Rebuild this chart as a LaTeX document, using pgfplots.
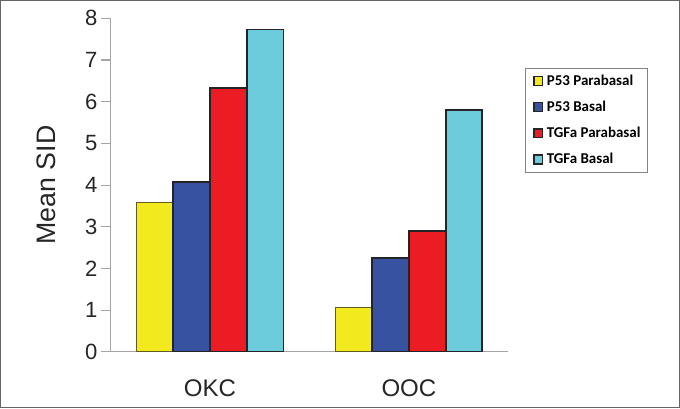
\documentclass[border=0pt]{standalone}
\usepackage{fontspec}
\setmainfont{Liberation Sans}
\newfontfamily\calfont{Carlito}
\usepackage{pgfplots}
\pgfplotsset{compat=1.18}
\definecolor{cyel}{RGB}{242,234,30}
\definecolor{cblu}{RGB}{55,82,160}
\definecolor{cred}{RGB}{236,28,36}
\definecolor{ccya}{RGB}{108,204,220}
\definecolor{axgray}{RGB}{165,165,165}
\definecolor{edge}{RGB}{35,35,40}
\definecolor{yedge}{RGB}{100,92,30}
\definecolor{framegray}{RGB}{100,100,100}
\begin{document}
\begin{tikzpicture}
\begin{axis}[
  name=ax,
  scale only axis,
  width=297.75pt, height=249.5pt,
  xmin=0.5, xmax=2.5, ymin=0, ymax=8,
  axis lines=left,
  axis line style={-, draw=axgray, line width=1.1pt},
  ybar=0pt, bar width=27.5pt,
  xtick={1,2}, xticklabels={OKC,OOC},
  major x tick style={draw=none},
  extra x ticks={0.5,1.5,2.5},
  extra x tick labels={},
  extra x tick style={major tick length=7pt, tick style={draw=axgray, line width=0.8pt}},
  ytick={0,1,...,8},
  tick align=outside,
  major tick length=7pt,
  y tick style={draw=axgray, line width=0.8pt},
  /pgf/number format/assume math mode=true,
  yticklabel style={font=\fontsize{16.5}{16.5}\selectfont, inner xsep=2.5pt, text=black!85},
  xticklabel style={font=\fontsize{18}{18}\selectfont, inner sep=0pt, yshift=-14pt, text=black!85},
  every axis y label/.style={at={(axis description cs:-0.161,0.5)}, rotate=90, anchor=center},
  ylabel={Mean SID},
  ylabel style={font=\fontsize{20}{20}\selectfont, text=black!85},
  legend style={
    at={(rel axis cs:1.0428,0.8518)}, anchor=north west,
    draw=axgray!80!black, line width=0.8pt,
    font=\calfont\bfseries\fontsize{11.2}{12}\selectfont,
    nodes={inner sep=0pt, text height=7.8pt, text depth=2pt, anchor=base west},
    row sep=9.7pt, column sep=2.5pt,
    inner xsep=5.5pt, inner ysep=5pt,
    legend cell align=left,
  },
  legend image code/.code={\draw[#1, draw=black!85, line width=0.9pt] (0pt,-0.3pt) rectangle (6.7pt,6.4pt);},
]
\addplot[fill=cyel, draw=yedge, line width=0.6pt] coordinates {(1,3.58) (2,1.07)};
\addplot[fill=cblu, draw=edge, line width=1.4pt] coordinates {(1,4.07) (2,2.25)};
\addplot[fill=cred, draw=edge, line width=1.4pt] coordinates {(1,6.33) (2,2.90)};
\addplot[fill=ccya, draw=edge, line width=1.4pt] coordinates {(1,7.73) (2,5.79)};
\legend{P53 Parabasal, P53 Basal, TGFa Parabasal, TGFa Basal}
\end{axis}
\draw[framegray, line width=1.1pt] ([shift={(-82.1pt,-41.9pt)}]ax.south west) rectangle ([shift={(425.6pt,262.65pt)}]ax.south west);
\end{tikzpicture}
\end{document}
